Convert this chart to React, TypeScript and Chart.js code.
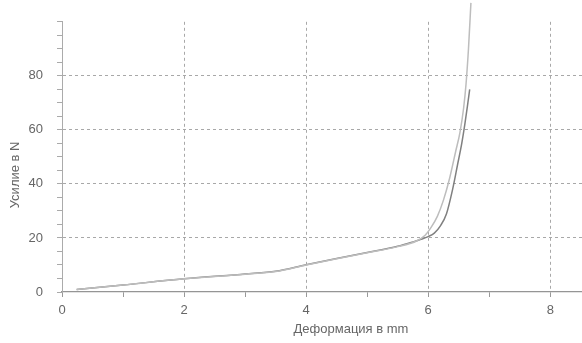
import React, { useEffect, useRef } from "react";
import { Chart, registerables } from "chart.js";

Chart.register(...registerables);

const xTickLabels = ["0", "2", "4", "6", "8"];
const yTickLabels = ["0", "20", "40", "60", "80"];

const xTitle = "Деформация в mm";
const yTitle = "Усилие в N";

// Curve A (lighter, steeper, runs off the top)
const curveAX = [0.24, 1, 2, 3, 3.5, 4, 4.5, 5, 5.5, 5.8, 5.95, 6.05, 6.15, 6.25, 6.35, 6.45, 6.52, 6.58, 6.62, 6.66, 6.7];
const curveAY = [0.9, 2.6, 4.9, 6.6, 7.6, 10, 12.3, 14.5, 16.8, 18.8, 21, 24, 28, 34, 42, 52, 59, 68, 77, 90, 107];

// Curve B (darker, ends near 75 N)
const curveBX = [0.24, 1, 2, 3, 3.5, 4, 4.5, 5, 5.5, 5.8, 5.9, 6.0, 6.1, 6.2, 6.3, 6.4, 6.48, 6.55, 6.6, 6.65, 6.68];
const curveBY = [0.9, 2.6, 4.9, 6.7, 7.7, 10.1, 12.4, 14.6, 16.9, 18.9, 19.6, 20.5, 21.8, 24.5, 29, 38, 47, 55, 62, 70, 75];

const FONT = "'Liberation Sans', Arial, sans-serif";

const toPoints = (xs: number[], ys: number[]) => xs.map((x, i) => ({ x, y: ys[i] }));

const titlesPlugin = {
  id: "axisTitles",
  afterDraw(chart: any) {
    const { ctx, chartArea } = chart;
    ctx.save();
    ctx.fillStyle = "#666";
    ctx.font = `13px ${FONT}`;
    ctx.textAlign = "center";
    ctx.textBaseline = "middle";
    ctx.fillText(xTitle, (chartArea.left + chartArea.right) / 2 + 29, chartArea.bottom + 37);
    ctx.translate(15, (chartArea.top + chartArea.bottom) / 2 + 18);
    ctx.rotate(-Math.PI / 2);
    ctx.fillText(yTitle, 0, 0);
    ctx.restore();
  },
};

export default function App() {
  const ref = useRef<HTMLCanvasElement | null>(null);

  useEffect(() => {
    if (!ref.current) return;
    const chart = new Chart(ref.current, {
      type: "line",
      data: {
        datasets: [
          {
            data: toPoints(curveAX, curveAY),
            borderColor: "#bdbdbd",
            borderWidth: 1.5,
            pointRadius: 0,
            cubicInterpolationMode: "monotone",
            clip: false as any,
          },
          {
            data: toPoints(curveBX, curveBY),
            borderColor: "#808080",
            borderWidth: 1.5,
            pointRadius: 0,
            cubicInterpolationMode: "monotone",
            clip: false as any,
          },
        ],
      },
      options: {
        animation: false,
        responsive: false,
        layout: { padding: { top: 17, left: 0, right: 0, bottom: 0 } },
        plugins: { legend: { display: false }, tooltip: { enabled: false } },
        scales: {
          x: {
            type: "linear",
            min: 0,
            max: 8.52,
            ticks: {
              stepSize: 1,
              includeBounds: false,
              autoSkip: false,
              maxRotation: 0,
              padding: 6,
              color: "#666",
              font: { family: FONT, size: 13 },
              callback: (v: any) => (xTickLabels.includes(String(v)) ? String(v) : ""),
            },
            grid: {
              color: (c: any) => {
                const v = c.tick && c.tick.value;
                return v > 0 && xTickLabels.includes(String(v)) ? "#a8a8a8" : "rgba(0,0,0,0)";
              },
              tickColor: (c: any) => (Number.isInteger(c.tick && c.tick.value) ? "#999" : "rgba(0,0,0,0)"),
              tickLength: 5,
              lineWidth: 1,
            },
            border: { display: true, color: "#959595", width: 1.3, dash: [3, 3] },
            afterFit: (s: any) => {
              s.height = 51;
            },
          },
          y: {
            type: "linear",
            min: 0,
            max: 100,
            ticks: {
              stepSize: 5,
              autoSkip: false,
              padding: 14,
              color: "#666",
              font: { family: FONT, size: 13 },
              callback: (v: any) => (yTickLabels.includes(String(v)) ? String(v) : ""),
            },
            grid: {
              color: (c: any) => {
                const v = c.tick && c.tick.value;
                return v > 0 && yTickLabels.includes(String(v)) ? "#a8a8a8" : "rgba(0,0,0,0)";
              },
              tickColor: "#aaa",
              tickLength: 5,
              lineWidth: 1,
            },
            border: { display: true, color: "#ababab", width: 1, dash: [3, 3] },
            afterFit: (s: any) => {
              s.width = 62;
            },
          },
        },
      },
      plugins: [titlesPlugin],
    });
    return () => chart.destroy();
  }, []);

  return (
    <div style={{ position: "absolute", left: 0, top: 0, width: 582, height: 343, background: "#fff" }}>
      <canvas ref={ref} width={582} height={343} style={{ width: 582, height: 343 }} />
    </div>
  );
}
